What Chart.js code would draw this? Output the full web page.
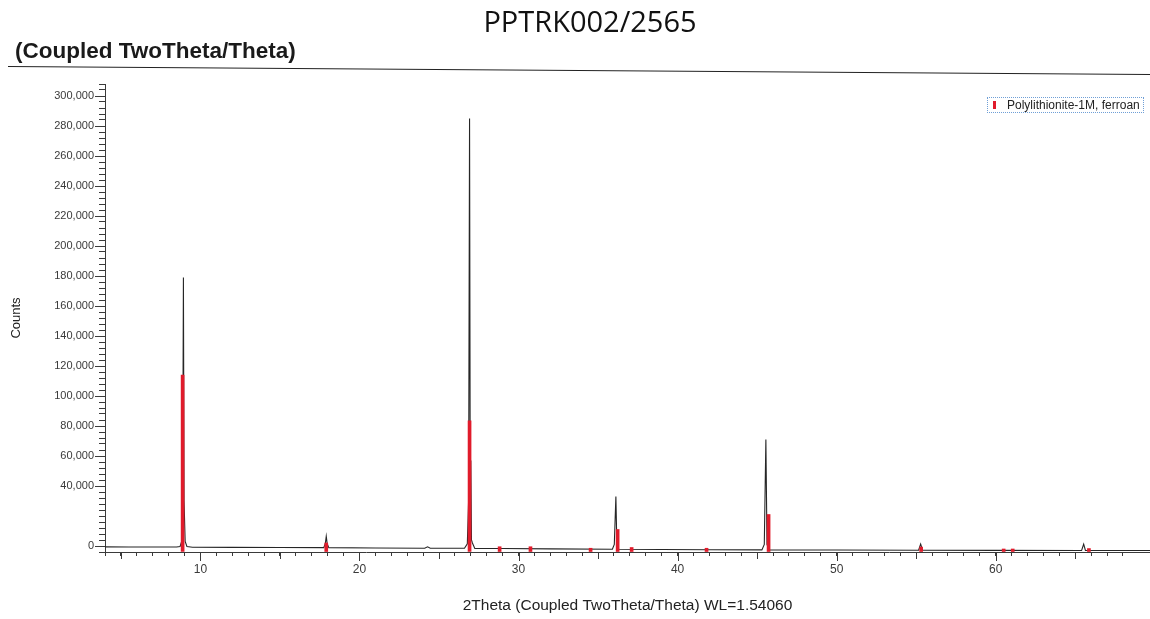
<!DOCTYPE html>
<html lang="en">
<head>
<meta charset="UTF-8">
<title>PPTRK002/2565</title>
<script src="https://cdn.jsdelivr.net/npm/chart.js"></script>
<style>
  body { margin: 0; background: #fff; }
  #wrap { position: relative; width: 1150px; height: 619px; overflow: hidden; font-family: "Liberation Sans", Arial, sans-serif; }
  #wrap canvas { position: absolute; left: 0; top: 0; }
  .txt { position: absolute; white-space: nowrap; color: #111; }
  #sample { left: 440px; top: 6px; width: 300px; text-align: center; font: 29px/29px "Open Sans", sans-serif; }
  #scanType { left: 15px; top: 40px; font: bold 22.5px/22px "Liberation Sans", Arial, sans-serif; color: #1a1a1a; }
  #rule { position: absolute; left: 8px; top: 66px; width: 1145px; height: 1px; background: #222; transform-origin: 0 0; transform: rotate(0.4deg); }
  #legend { position: absolute; left: 987px; top: 97px; width: 155px; height: 14px; border: 1px dotted #6f9fd6; }
  #legend i { position: absolute; left: 5px; top: 3px; width: 3px; height: 8px; background: #e01b2b; }
  #legend span { position: absolute; left: 19px; top: 0; font: 12px/14px "Liberation Sans", Arial, sans-serif; color: #222; }
</style>
</head>
<body>
<div id="wrap">
  <canvas id="xrd"></canvas>
  <div class="txt" id="sample">PPTRK002/2565</div>
  <div class="txt" id="scanType">(Coupled TwoTheta/Theta)</div>
  <div id="rule"></div>
  <div id="legend"><i></i><span>Polylithionite-1M, ferroan</span></div>
</div>
<script>
// measured scan (2theta, counts)
const twoTheta = [4.0, 5.5, 7.0, 8.5, 8.72, 8.82, 8.88, 8.93, 8.97, 9.04, 9.15, 9.5,
  12.0, 15.0, 17.75, 17.85, 17.91, 17.97, 18.07, 21.0, 24.1, 24.28, 24.45,
  26.6, 26.78, 26.86, 26.92, 26.96, 27.0, 27.04, 27.1, 27.25, 29.0, 32.0,
  35.9, 36.02, 36.12, 36.18, 36.3, 39.0, 42.0, 45.3, 45.45, 45.55, 45.62, 45.75,
  50.0, 55.15, 55.28, 55.4, 60.0, 65.4, 65.53, 65.64, 69.7];
const counts = [-600, -700, -700, -700, -300, 3000, 30000, 179000, 30000, 3000, -300, -800,
  -900, -1000, -1100, 1500, 6500, 1500, -1100, -1300, -1500, -500, -1500,
  -1500, 1500, 30000, 285000, 57000, 56000, 4000, 2000, -1600, -1700, -1900,
  -2200, 1000, 33000, 1000, -2200, -2300, -2500, -2600, 1000, 71000, 1000, -2600,
  -2700, -2800, 1300, -2800, -2900, -2950, 1300, -2950, -3000];

// reference pattern: Polylithionite-1M, ferroan
const stickAngle = [8.88, 17.91, 26.92, 28.81, 30.75, 34.53, 36.23, 37.11, 41.82, 45.72, 55.31, 60.5, 61.07, 65.86];
const stickIntensity = [114000, 2000, 83500, -500, -500, -1500, 11000, -1000, -1500, 21000, -700, -2000, -2000, -1700];

const xLabelValues = [10, 20, 30, 40, 50, 60];
const yLabelValues = [0, 40000, 60000, 80000, 100000, 120000, 140000, 160000, 180000,
  200000, 220000, 240000, 260000, 280000, 300000];

const axisColor = '#3a3a3a';
const near = (v, m) => Math.abs(v / m - Math.round(v / m)) < 1e-6;

// longer marks for labelled ticks
const tickMarks = {
  id: 'tickMarks',
  afterDraw(chart) {
    const { ctx, scales: { x, y } } = chart;
    ctx.save();
    ctx.strokeStyle = axisColor;
    ctx.lineWidth = 1;
    ctx.beginPath();
    x.ticks.forEach(t => {
      const len = near(t.value, 10) ? 9 : near(t.value, 5) ? 7 : 0;
      if (!len) return;
      const px = Math.round(x.getPixelForValue(t.value)) + 0.5;
      ctx.moveTo(px, x.top);
      ctx.lineTo(px, x.top + len);
    });
    y.ticks.forEach(t => {
      if (!yLabelValues.some(v => Math.abs(v - t.value) < 1)) return;
      const py = Math.round(y.getPixelForValue(t.value)) + 0.5;
      ctx.moveTo(y.right, py);
      ctx.lineTo(y.right - 10, py);
    });
    ctx.stroke();
    ctx.restore();
  }
};

Chart.defaults.font.family = '"Liberation Sans", Arial, sans-serif';
Chart.defaults.color = axisColor;

const canvas = document.getElementById('xrd');
canvas.width = 1150;
canvas.height = 619;

new Chart(canvas.getContext('2d'), {
  type: 'line',
  data: {
    datasets: [
      {
        type: 'bar',
        label: 'Polylithionite-1M, ferroan',
        data: stickAngle.map((a, i) => ({ x: a, y: stickIntensity[i] })),
        backgroundColor: '#e01b2b',
        barThickness: 3,
        base: -4000,
        order: 0
      },
      {
        label: 'Scan',
        data: twoTheta.map((a, i) => ({ x: a, y: counts[i] })),
        borderColor: '#262626',
        borderWidth: 1.1,
        pointRadius: 0,
        tension: 0,
        order: 1
      }
    ]
  },
  options: {
    responsive: false,
    animation: false,
    layout: { padding: { top: 84, left: 0, right: 0, bottom: 0 } },
    plugins: { legend: { display: false }, tooltip: { enabled: false } },
    scales: {
      x: {
        type: 'linear',
        offset: false,
        min: 4,
        max: 69.7,
        afterFit: s => { s.height = 67; s.paddingRight = 0; s.paddingLeft = 0; },
        grid: { offset: false, drawOnChartArea: false, tickLength: 4, color: axisColor },
        border: { color: axisColor, width: 1 },
        ticks: {
          stepSize: 1,
          autoSkip: false,
          maxRotation: 0,
          padding: 6,
          font: { size: 12 },
          callback: v => xLabelValues.includes(Math.round(v)) && near(v, 10) ? String(Math.round(v)) : ''
        },
        title: {
          display: true,
          text: '2Theta (Coupled TwoTheta/Theta) WL=1.54060',
          font: { size: 15.5 },
          color: '#222',
          padding: { top: 0, bottom: 4 }
        }
      },
      y: {
        type: 'linear',
        min: -4000,
        max: 308000,
        afterFit: s => { s.width = 105; },
        grid: { drawOnChartArea: false, tickLength: 6, color: axisColor },
        border: { color: axisColor, width: 1 },
        ticks: {
          stepSize: 4000,
          maxTicksLimit: 1000,
          autoSkip: false,
          padding: 5,
          font: { size: 11 },
          callback: v => yLabelValues.some(l => Math.abs(l - v) < 1) ? Math.round(v).toLocaleString('en-US') : ''
        },
        title: {
          display: true,
          text: 'Counts',
          font: { size: 13 },
          color: '#222',
          padding: { top: 9, bottom: 0 }
        }
      }
    }
  },
  plugins: [tickMarks]
});
</script>
</body>
</html>
